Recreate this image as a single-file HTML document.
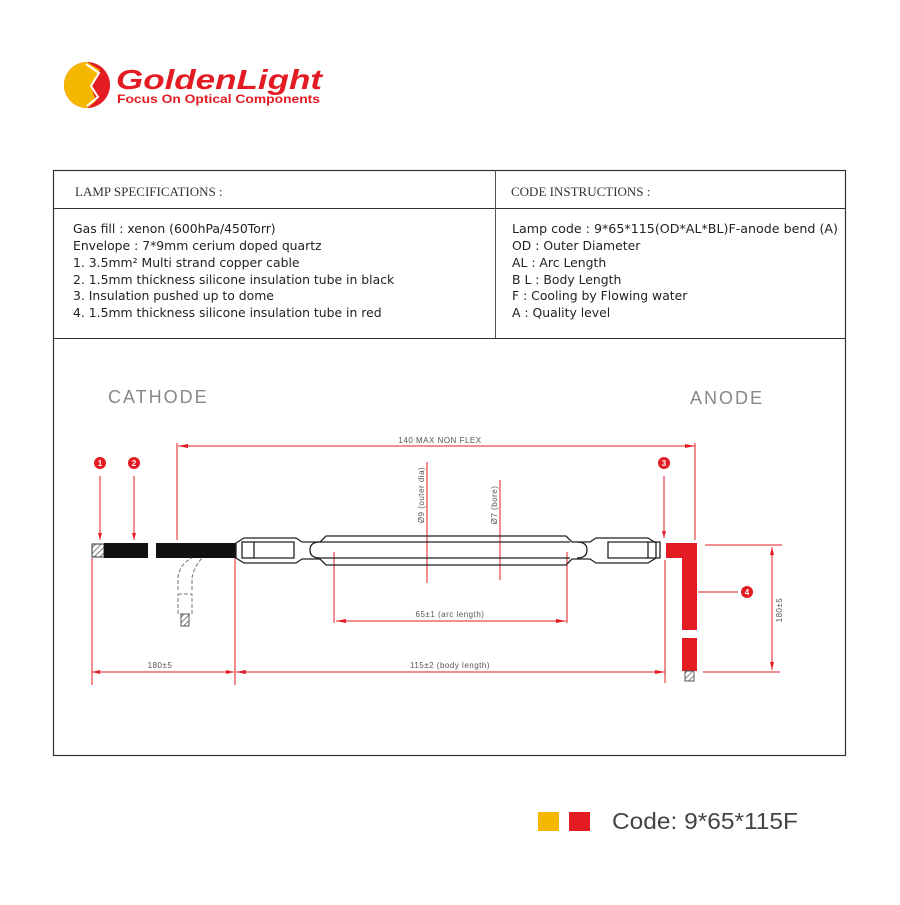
<!DOCTYPE html>
<html><head><meta charset="utf-8"><style>
body{margin:0;background:#fff;width:900px;height:900px;overflow:hidden;font-family:"Liberation Sans",sans-serif}
</style></head><body>
<svg width="900" height="900" xmlns="http://www.w3.org/2000/svg">
<defs>
<pattern id="h" width="4" height="4" patternUnits="userSpaceOnUse" patternTransform="rotate(45)"><rect width="4" height="4" fill="#fff"/><line x1="0" y1="0" x2="0" y2="4" stroke="#555" stroke-width="1.5"/></pattern>
</defs>
<!-- logo -->
<circle cx="87" cy="85" r="23" fill="#e31b23"/>
<path d="M87 62 A23 23 0 0 0 87 108 L96 101 L91 86 L100 70 Z" fill="#f5b800"/>
<path d="M86 64 L99 73 L91 86 L98 97 L87 106" fill="none" stroke="#fff" stroke-width="2"/>
<text x="116" y="89" font-size="28" font-weight="bold" font-style="italic" fill="#e31b23" textLength="206" lengthAdjust="spacingAndGlyphs">GoldenLight</text>
<text x="117" y="103" font-size="11.5" font-weight="bold" fill="#e31b23" textLength="203" lengthAdjust="spacingAndGlyphs">Focus On Optical Components</text>
<!-- table -->
<rect x="53.5" y="170.5" width="792" height="585" fill="none" stroke="#333" stroke-width="1.2"/>
<line x1="53" y1="208.5" x2="846" y2="208.5" stroke="#333"/>
<line x1="53" y1="338.5" x2="846" y2="338.5" stroke="#333"/>
<line x1="495.5" y1="170" x2="495.5" y2="338" stroke="#555"/>
<g font-family="Liberation Serif,serif" font-size="13" fill="#333">
<text x="75" y="196">LAMP SPECIFICATIONS :</text>
<text x="511" y="196">CODE INSTRUCTIONS :</text>
</g>
<g font-family="DejaVu Sans,sans-serif" font-size="12.4" fill="#222">
<text x="73" y="233">Gas fill : xenon (600hPa/450Torr)</text>
<text x="73" y="250">Envelope : 7*9mm cerium doped quartz</text>
<text x="73" y="267">1. 3.5mm² Multi strand copper cable</text>
<text x="73" y="284">2. 1.5mm thickness silicone insulation tube in  black</text>
<text x="73" y="300">3. Insulation pushed up to dome</text>
<text x="73" y="317">4. 1.5mm thickness silicone insulation tube in red</text>
<text x="512" y="233" textLength="326" lengthAdjust="spacingAndGlyphs">Lamp code : 9*65*115(OD*AL*BL)F-anode bend (A)</text>
<text x="512" y="250">OD : Outer Diameter</text>
<text x="512" y="267">AL : Arc Length</text>
<text x="512" y="284">B L : Body Length</text>
<text x="512" y="300"> F  : Cooling by Flowing water</text>
<text x="512" y="317">A   : Quality level</text>
</g>
<text x="108" y="403" font-size="18" fill="#888" letter-spacing="2">CATHODE</text>
<text x="690" y="404" font-size="18" fill="#888" letter-spacing="2">ANODE</text>
<!-- dimension lines -->
<g stroke="#e31b23" stroke-width="1" fill="none">
<line x1="178" y1="446" x2="695" y2="446"/>
<line x1="177" y1="443" x2="177" y2="540"/>
<line x1="695" y1="443" x2="695" y2="540"/>
<line x1="92" y1="672" x2="234" y2="672"/>
<line x1="236" y1="672" x2="665" y2="672"/>
<line x1="336" y1="621" x2="566" y2="621"/>
<line x1="235" y1="545" x2="235" y2="685"/>
<line x1="665" y1="560" x2="665" y2="683"/>
<line x1="92" y1="558" x2="92" y2="685"/>
<line x1="334" y1="552" x2="334" y2="623"/>
<line x1="567" y1="552" x2="567" y2="623"/>
<line x1="427" y1="462" x2="427" y2="583"/>
<line x1="500" y1="480" x2="500" y2="580"/>
<line x1="772" y1="547" x2="772" y2="670"/>
<line x1="705" y1="545" x2="782" y2="545"/>
<line x1="703" y1="672" x2="780" y2="672"/>
<line x1="100" y1="476" x2="100" y2="540"/>
<line x1="134" y1="476" x2="134" y2="540"/>
<line x1="664" y1="476" x2="664" y2="538"/>
<line x1="698" y1="592" x2="738" y2="592"/>
</g>
<g fill="#e31b23">
<path d="M178 446 l10 -2 v4z"/><path d="M695 446 l-10 -2 v4z"/>
<path d="M236 672 l10 -2 v4z"/><path d="M665 672 l-10 -2 v4z"/>
<path d="M336 621 l10 -2 v4z"/><path d="M566 621 l-10 -2 v4z"/>
<path d="M234 672 l-8 -2 v4z"/><path d="M92 672 l8 -2 v4z"/>
<path d="M772 547 l-2 8 h4z"/><path d="M772 670 l-2 -8 h4z"/>
<path d="M100 540 l-2 -7 h4z"/><path d="M134 540 l-2 -7 h4z"/><path d="M664 538 l-2 -7 h4z"/>
<circle cx="100" cy="463" r="6"/><circle cx="134" cy="463" r="6"/>
<circle cx="664" cy="463" r="6"/><circle cx="747" cy="592" r="6"/>
</g>
<g fill="#fff" font-size="8" font-weight="bold" text-anchor="middle">
<text x="100" y="466">1</text><text x="134" y="466">2</text><text x="664" y="466">3</text><text x="747" y="595">4</text>
</g>
<g font-size="8" fill="#555" text-anchor="middle" letter-spacing="0.5">
<text x="440" y="443">140 MAX NON FLEX</text>
<text x="160" y="668">180±5</text>
<text x="450" y="668">115±2 (body length)</text>
<text x="450" y="617">65±1 (arc length)</text>
<text transform="translate(424,495) rotate(-90)">Ø9 (outer dia)</text>
<text transform="translate(497,505) rotate(-90)">Ø7 (bore)</text>
<text transform="translate(782,610) rotate(-90)">180±5</text>
</g>
<!-- cables -->
<rect x="92" y="544" width="12" height="13" fill="url(#h)" stroke="#333"/>
<rect x="104" y="543" width="44" height="15" fill="#111"/>
<rect x="156" y="543" width="80" height="15" fill="#111"/>
<path d="M178 590 v-10 q0 -15 14 -22 M192 590 v-10 q0 -10 10 -22" fill="none" stroke="#777" stroke-dasharray="4 2"/>
<rect x="178" y="594" width="14" height="20" fill="none" stroke="#777" stroke-dasharray="4 2"/>
<rect x="181" y="614" width="8" height="12" fill="url(#h)" stroke="#555"/>
<!-- lamp -->
<g fill="none" stroke="#222" stroke-width="1.3">
<path d="M236 543 l8 -5 h52 l6 4 h18 l6 -6 h240 l6 6 h18 l6 -4 h52 l8 5 v15 l-8 5 h-52 l-6 -4 h-18 l-6 6 h-240 l-6 -6 h-18 l-6 4 h-52 l-8 -5z"/>
<path d="M320 542 h250 M320 558 h250"/>
<rect x="242" y="542" width="12" height="16"/><rect x="648" y="542" width="12" height="16"/>
<path d="M254 542 h40 v16 h-40 M648 542 h-40 v16 h40"/>
<path d="M320 542 q-10 0 -10 8 q0 8 10 8 M577 542 q10 0 10 8 q0 8 -10 8"/>
</g>
<!-- red cable -->
<path d="M666 543 h31 v87 h-15 v-72 h-16z" fill="#e31b23"/>
<rect x="682" y="638" width="15" height="33" fill="#e31b23"/>
<rect x="685" y="671" width="9" height="10" fill="url(#h)" stroke="#555"/>
<!-- legend -->
<rect x="538" y="812" width="21" height="19" fill="#f5b800"/>
<rect x="569" y="812" width="21" height="19" fill="#e31b23"/>
<text x="612" y="829" font-size="23" fill="#444" textLength="186" lengthAdjust="spacingAndGlyphs">Code: 9*65*115F</text>
</svg>
</body></html>
